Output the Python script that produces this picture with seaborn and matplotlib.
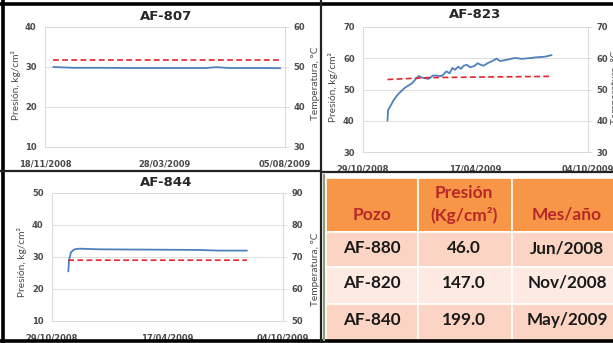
"""Composite of three Excel-like pressure/temperature charts plus a small table."""

import pandas as pd
import matplotlib
matplotlib.use("Agg")
import matplotlib.pyplot as plt
import matplotlib.dates as mdates
from matplotlib.patches import Rectangle
from matplotlib.lines import Line2D
import seaborn as sns

# ---- data ----
# AF-807
pres_807_dates = ["2008-11-27", "2008-12-18", "2009-01-17", "2009-02-16", "2009-03-18",
                  "2009-04-17", "2009-05-12", "2009-05-22", "2009-06-06", "2009-07-06",
                  "2009-07-31"]
pres_807 = [30.0, 29.8, 29.8, 29.75, 29.75, 29.75, 29.75, 29.95, 29.75, 29.75, 29.7]
temp_807_dates = ["2008-11-27", "2009-08-01"]
temp_807 = [51.8, 51.8]
ticks_807 = ["2008-11-18", "2009-03-28", "2009-08-05"]

# AF-823
pres_823_dates = ["2008-12-05", "2008-12-06", "2008-12-09", "2008-12-14", "2008-12-21",
                  "2008-12-31", "2009-01-11", "2009-01-21", "2009-01-26", "2009-02-05",
                  "2009-02-12", "2009-02-25", "2009-03-04", "2009-03-09", "2009-03-13",
                  "2009-03-17", "2009-03-22", "2009-03-26", "2009-03-30", "2009-04-04",
                  "2009-04-09", "2009-04-16", "2009-04-20", "2009-04-24", "2009-04-29",
                  "2009-05-06", "2009-05-10", "2009-05-14", "2009-05-19", "2009-05-24",
                  "2009-06-03", "2009-06-16", "2009-06-26", "2009-07-06", "2009-07-18",
                  "2009-07-31", "2009-08-10"]
pres_823 = [40.0, 43.5, 44.5, 46.5, 48.5,
            50.5, 52.0, 54.3, 53.8, 53.4,
            54.5, 54.3, 55.8, 55.2, 56.9,
            56.3, 57.3, 56.6, 57.6, 57.9,
            57.1, 57.6, 58.4, 58.0, 57.6,
            58.5, 58.9, 59.3, 59.9, 59.1,
            59.5, 60.1, 59.8, 60.0, 60.3,
            60.5, 61.0]
temp_823_dates = ["2008-12-05", "2009-02-05", "2009-05-01", "2009-08-10"]
temp_823 = [53.2, 53.8, 54.0, 54.2]
ticks_823 = ["2008-10-29", "2009-04-17", "2009-10-04"]

# AF-844
pres_844_dates = ["2008-11-22", "2008-11-23", "2008-11-26", "2008-12-01", "2008-12-09",
                  "2009-01-07", "2009-03-22", "2009-06-04", "2009-07-01", "2009-08-12"]
pres_844 = [25.5, 29.0, 31.5, 32.4, 32.6, 32.4, 32.3, 32.2, 32.0, 32.0]
temp_844_dates = ["2008-11-22", "2008-11-24", "2009-08-12"]
temp_844 = [68.8, 69.0, 69.0]
ticks_844 = ["2008-10-29", "2009-04-17", "2009-10-04"]

# table
pozos = ["AF-880", "AF-820", "AF-840"]
presiones = [46.0, 147.0, 199.0]
fechas = ["Jun/2008", "Nov/2008", "May/2009"]

# ---- styling ----
W, H = 613, 343
BLUE = "#4F81BD"
RED = "#E3262B"
GRID = "#D9D9D9"
TXT = "#4A4A4A"
TICKFONT = ["DejaVu Sans"]

sns.set_style("white")
plt.rcParams["font.family"] = ["Lato", "DejaVu Sans"]

fig = plt.figure(figsize=(W / 100, H / 100), dpi=100)
fig.patch.set_facecolor("white")


def box(x0, y0, x1, y1):
    return [x0 / W, 1 - y1 / H, (x1 - x0) / W, (y1 - y0) / H]


def chart(rect, pdates, pvals, tdates, tvals, ticks, lim_p, lim_t, title, title_xy):
    ax = fig.add_axes(box(*rect))
    ax2 = ax.twinx()
    sns.lineplot(x=pd.to_datetime(pdates), y=pvals, ax=ax, color=BLUE,
                 linewidth=1.3, estimator=None)
    sns.lineplot(x=pd.to_datetime(tdates), y=tvals, ax=ax2, color=RED,
                 linewidth=1.2, estimator=None, linestyle=(0, (3.5, 2)))
    tk = pd.to_datetime(ticks)
    ax.set_xlim(tk[0], tk[-1])
    ax.set_xticks(tk)
    ax.xaxis.set_major_formatter(mdates.DateFormatter("%d/%m/%Y"))
    ax.set_ylim(*lim_p)
    ax.set_yticks(range(lim_p[0], lim_p[1] + 1, 10))
    ax2.set_ylim(*lim_t)
    ax2.set_yticks(range(lim_t[0], lim_t[1] + 1, 10))
    ax.yaxis.grid(True, color=GRID, linewidth=0.6)
    ax.set_xlabel("")
    ax.set_ylabel("")
    ax2.set_ylabel("")
    for a in (ax, ax2):
        for s in a.spines.values():
            s.set_color(GRID)
            s.set_linewidth(0.7)
        a.tick_params(labelsize=6, labelcolor=TXT, length=0)
        for lab in a.get_xticklabels() + a.get_yticklabels():
            lab.set_family(TICKFONT)
            lab.set_fontweight("bold")
    ax.tick_params(axis="y", pad=6)
    ax.tick_params(axis="x", pad=9)
    ax2.tick_params(axis="y", pad=3, length=3, color=GRID, width=0.6)
    fig.text(title_xy[0] / W, 1 - title_xy[1] / H, title, ha="center", va="center",
             fontsize=9.5, fontweight="bold", color="#262626", family=TICKFONT)
    return ax, ax2


def ylab(x, y, s):
    fig.text(x / W, 1 - y / H, s, rotation=90, ha="center", va="center",
             fontsize=7.3, color=TXT)


chart((45, 27, 285, 147), pres_807_dates, pres_807, temp_807_dates, temp_807,
      ticks_807, (10, 40), (30, 60), "AF-807", (166, 17))
chart((363, 27, 588, 152), pres_823_dates, pres_823, temp_823_dates, temp_823,
      ticks_823, (30, 70), (30, 70), "AF-823", (475, 15))
chart((52, 193, 283, 321), pres_844_dates, pres_844, temp_844_dates, temp_844,
      ticks_844, (10, 50), (50, 90), "AF-844", (166, 183))

ylab(16, 85, "Presión, kg/cm²")
ylab(316, 83, "Temperatura, °C")
ylab(333, 87, "Presión, kg/cm²")
ylab(615, 87, "Temperatura, °C")
ylab(22, 262, "Presión, kg/cm²")
ylab(315, 269, "Temperatura, °C")

# ---- table ----
tab = fig.add_axes([0, 0, 1, 1], zorder=5)
tab.set_xlim(0, W)
tab.set_ylim(H, 0)
tab.axis("off")

col_edges = [326, 418, 512, 640]
row_edges = [178, 232, 267, 304, 341]
row_colors = ["#FBD4C3", "#FDEAE3", "#FBD4C3"]
HEAD = "#F79646"
HEAD_TXT = "#B8282A"

tab.add_patch(Rectangle((323, 174), 320, 170, facecolor="white", edgecolor="none"))
for c in range(3):
    x0, x1 = col_edges[c], col_edges[c + 1]
    tab.add_patch(Rectangle((x0, row_edges[0]), x1 - x0, row_edges[1] - row_edges[0],
                            facecolor=HEAD, edgecolor="white", linewidth=1.2))
    for r in range(3):
        y0, y1 = row_edges[r + 1], row_edges[r + 2]
        tab.add_patch(Rectangle((x0, y0), x1 - x0, y1 - y0, facecolor=row_colors[r],
                                edgecolor="white", linewidth=1.2))

centers = [372, 464, 567]
head_kw = dict(ha="center", va="center", fontsize=12.5, fontweight="bold", color=HEAD_TXT)
tab.text(centers[0], 215, "Pozo", **head_kw)
tab.text(centers[1], 193, "Presión", **head_kw)
tab.text(centers[1], 215, "(Kg/cm²)", **head_kw)
tab.text(centers[2], 215, "Mes/año", **head_kw)
row_y = [248, 283, 320]
for r in range(3):
    vals = [pozos[r], f"{presiones[r]:.1f}", fechas[r]]
    for c in range(3):
        tab.text(centers[c], row_y[r], vals[c], ha="center", va="center",
                 fontsize=12.3, fontweight="bold", color="#1A1A1A")

# ---- frame lines of the composite ----
def seg(x0, y0, x1, y1, lw, color="black"):
    tab.add_line(Line2D([x0, x1], [y0, y1], color=color, linewidth=lw,
                        solid_capstyle="butt"))

seg(0, 4, W, 4, 2.6)
seg(3, 0, 3, H, 2.6)
seg(0, 340.5, W, 340.5, 2.6)
seg(321, 0, 321, H, 1.6, "#222222")
seg(0, 171, 321, 171, 1.6, "#222222")
seg(321, 172, W, 172, 1.6, "#222222")
seg(324, 174, 324, 341, 1.6, "#8E9E78")

fig.savefig("out.png", dpi=100)
